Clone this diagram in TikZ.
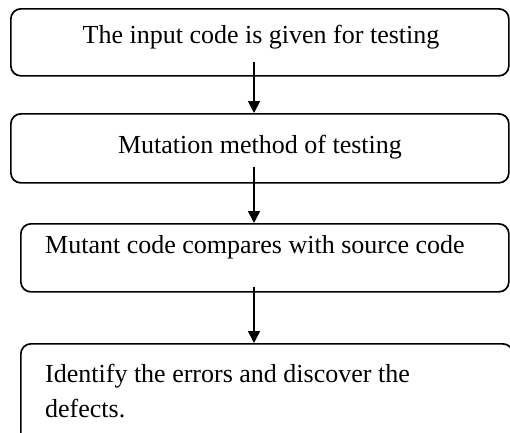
\documentclass[tikz,border=0pt]{standalone}
\usepackage{fontspec}
\setmainfont{Liberation Serif}
\usetikzlibrary{arrows.meta,calc}
\begin{document}
\begin{tikzpicture}[x=1pt,y=-1pt,
  box/.style={draw, line width=1.7pt, rounded corners=10pt, inner sep=0pt},
  lbl/.style={font=\fontsize{26}{31}\selectfont, inner sep=0pt, anchor=base},
  arr/.style={line width=1.7pt, -{Triangle[length=12pt,width=12pt]}}]
\useasboundingbox (0,0) rectangle (510,432);
\fill[white] (0,0) rectangle (510,432);
\node[box, minimum width=498pt, minimum height=67pt, anchor=north west] (b1) at (10,8) {};
\node[box, minimum width=498pt, minimum height=69pt, anchor=north west] (b2) at (10,113) {};
\node[box, minimum width=488pt, minimum height=68pt, anchor=north west] (b3) at (20,223) {};
\begin{scope}
  \clip (0,0) rectangle (510,432);
  \node[box, minimum width=492pt, minimum height=130pt, anchor=north west] (b4) at (20,343) {};
\end{scope}
\node[lbl] (t1) at (261,43.3) {The input code is given for testing};
\node[lbl] (t2) at (260,153) {Mutation method of testing};
\node[lbl, anchor=base west] (t3) at (45,253) {Mutant code compares with source code};
\node[lbl, anchor=base west] (t4a) at (45,382) {Identify the errors and discover the};
\node[lbl, anchor=base west] (t4b) at (45,417) {defects.};
\coordinate (ax) at (254,0);
\draw[arr] ($(b1.south -| ax)+(0,-15)$) -- (b2.north -| ax);
\draw[arr] ($(b2.south -| ax)+(0,-17)$) -- (b3.north -| ax);
\draw[arr] ($(b3.south -| ax)+(0,-6)$) -- (b4.north -| ax);
\end{tikzpicture}
\end{document}
